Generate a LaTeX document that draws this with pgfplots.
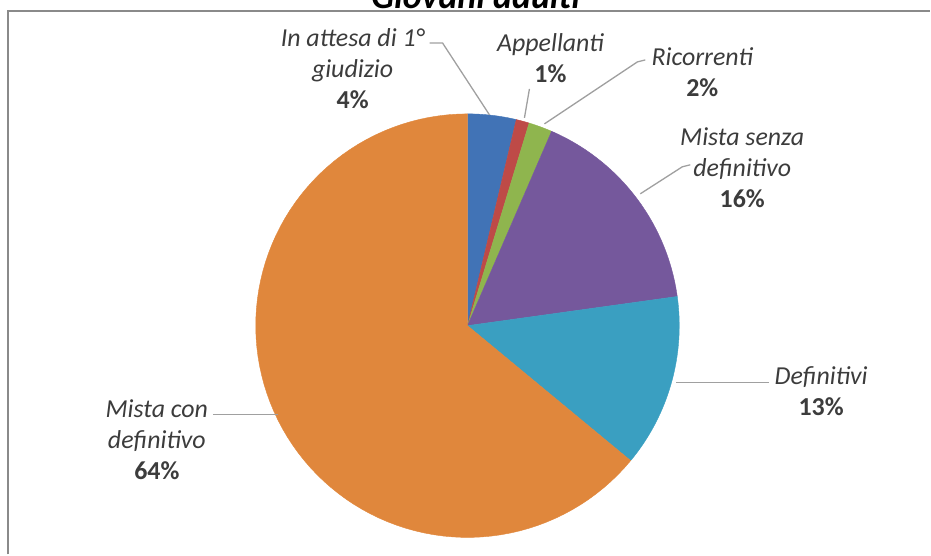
\documentclass[border=0pt]{standalone}
\usepackage{fontspec}
\setmainfont{Carlito}
\usepackage{pgfplots}
\pgfplotsset{compat=1.18}
\definecolor{cBlue}{HTML}{4173B6}
\definecolor{cRed}{HTML}{BE4A47}
\definecolor{cGreen}{HTML}{8FB54E}
\definecolor{cPurple}{HTML}{75589C}
\definecolor{cTeal}{HTML}{3A9FC1}
\definecolor{cOrange}{HTML}{E0873C}
\definecolor{cText}{HTML}{3C3C3C}
\definecolor{cLead}{HTML}{A0A0A0}
\definecolor{cBorder}{HTML}{8A8A8A}
% slice: #1 cumulative start (%), #2 share (%), #3 colour
\newcommand\slice[3]{%
  \pgfmathsetmacro\aS{90-3.6*(#1)}%
  \pgfmathsetmacro\aE{90-3.6*(#1+#2)}%
  \edef\doslice{\noexpand\addplot[fill=#3, draw=#3, line width=0.4pt, domain=\aE:\aS, samples=90, variable=\noexpand\t]
    ({468+212*cos(\noexpand\t)},{326-212*sin(\noexpand\t)}) -- (axis cs:468,326) -- cycle;}%
  \doslice}
\begin{document}
\begin{tikzpicture}
\begin{axis}[at={(0,0)}, anchor=south west, width=931bp, height=555bp,
  scale only axis, hide axis, xmin=0, xmax=931, ymin=0, ymax=555,
  y dir=reverse, clip=false]
% picture frame (invisible)
\path (axis cs:0,0) rectangle (axis cs:931,555);
% border
\draw[cBorder, line width=2bp] (axis cs:8,555) -- (axis cs:8,11.5) -- (axis cs:931,11.5);
% title (cut at top)
\node[overlay, anchor=base, font=\fontsize{36}{40}\selectfont\bfseries\itshape] at (axis cs:476,9) {Giovani adulti};
% pie slices: In attesa 3.7, Appellanti 1.0, Ricorrenti 1.8, Mista senza def. 16.3, Definitivi 13.2, Mista con def. 64.0
\slice{0}{3.7}{cBlue}
\slice{3.7}{1.0}{cRed}
\slice{4.7}{1.8}{cGreen}
\slice{6.5}{16.3}{cPurple}
\slice{22.8}{13.2}{cTeal}
\slice{36.0}{64.0}{cOrange}
% leader lines
\draw[cLead, line width=1.3bp] (axis cs:430,43) -- (axis cs:443,43) -- (axis cs:490,115);
\draw[cLead, line width=1.3bp] (axis cs:530,89) -- (axis cs:525,118);
\draw[cLead, line width=1.3bp] (axis cs:646,60) -- (axis cs:638,62) -- (axis cs:545,124);
\draw[cLead, line width=1.3bp] (axis cs:691,165) -- (axis cs:683,167) -- (axis cs:641,194);
\draw[cLead, line width=1.3bp] (axis cs:770,383) -- (axis cs:677,383);
\draw[cLead, line width=1.3bp] (axis cs:213,415) -- (axis cs:278,415);
% labels
\tikzset{lbl/.style={align=center, text=cText, font=\fontsize{26}{31}\selectfont, inner sep=0pt}}
\node[lbl] at (axis cs:353,69) {\itshape In attesa di 1°\\\itshape giudizio\\\bfseries 4\%};
\node[lbl] at (axis cs:551,58) {\itshape Appellanti\\\bfseries 1\%};
\node[lbl] at (axis cs:703,72) {\itshape Ricorrenti\\\bfseries 2\%};
\node[lbl] at (axis cs:743,168) {\itshape Mista senza\\\itshape definitivo\\\bfseries 16\%};
\node[lbl] at (axis cs:822,392) {\itshape Definitivi\\\bfseries 13\%};
\node[lbl] at (axis cs:157,440) {\itshape Mista con\\\itshape definitivo\\\bfseries 64\%};
\end{axis}
\end{tikzpicture}
\end{document}
